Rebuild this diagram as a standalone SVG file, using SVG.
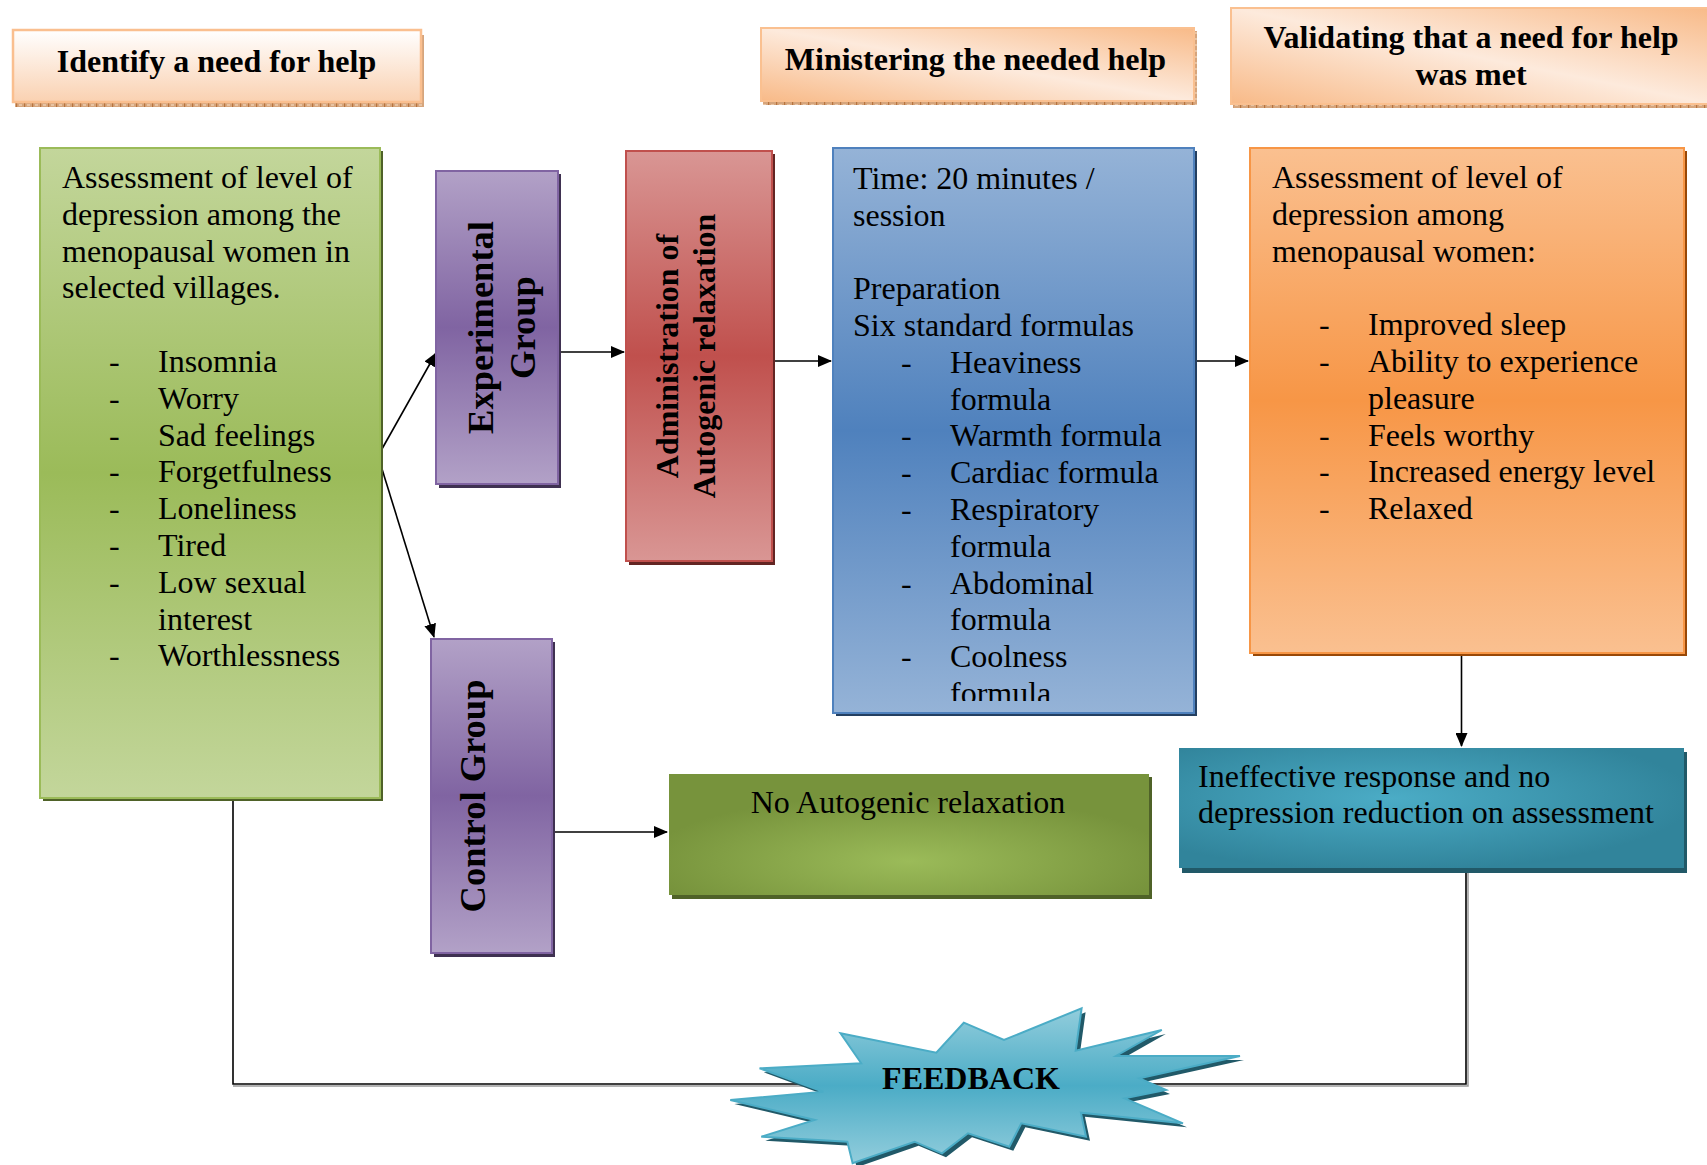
<svg xmlns="http://www.w3.org/2000/svg" width="1707" height="1165" viewBox="0 0 1707 1165">
<style>
  text { font-family: "Liberation Serif", "Times New Roman", serif; fill: #000; }
  .hd { font-size: 32px; font-weight: bold; text-anchor: middle; }
  .bt { font-size: 32px; }
  .vt { font-size: 36.5px; font-weight: bold; text-anchor: middle; }
  .vt2 { font-size: 32px; font-weight: bold; text-anchor: middle; }
  .ct { font-size: 32px; text-anchor: middle; }
  .fb { font-size: 32px; font-weight: bold; text-anchor: middle; }
  .conn { fill: none; stroke: #000; stroke-width: 1.6; }
</style>
<defs>
  <linearGradient id="gHdr1" x1="0" y1="0" x2="0" y2="1">
    <stop offset="0" stop-color="#FFFFFF"/>
    <stop offset="1" stop-color="#FAD1B1"/>
  </linearGradient>
  <linearGradient id="gHdr2" x1="1" y1="0" x2="0" y2="1">
    <stop offset="0" stop-color="#F8BA88"/>
    <stop offset="0.5" stop-color="#FDEADC"/>
    <stop offset="1" stop-color="#F8BA88"/>
  </linearGradient>
  <pattern id="pShadow" width="8" height="6" patternUnits="userSpaceOnUse">
    <rect width="8" height="6" fill="#D6A57C"/>
    <rect x="0" y="0" width="1.2" height="6" fill="#B8743E"/>
    <rect x="3" y="2" width="3" height="2" fill="#E7C3A3"/>
  </pattern>
  <linearGradient id="gGreen" x1="0" y1="0" x2="0" y2="1">
    <stop offset="0" stop-color="#C3D69B"/>
    <stop offset="0.5" stop-color="#9BBB59"/>
    <stop offset="1" stop-color="#C3D69B"/>
  </linearGradient>
  <linearGradient id="gPurple" x1="0" y1="0" x2="0" y2="1">
    <stop offset="0" stop-color="#B2A1C7"/>
    <stop offset="0.5" stop-color="#8064A2"/>
    <stop offset="1" stop-color="#B2A1C7"/>
  </linearGradient>
  <linearGradient id="gRed" x1="0" y1="0" x2="0" y2="1">
    <stop offset="0" stop-color="#D99694"/>
    <stop offset="0.5" stop-color="#C0504D"/>
    <stop offset="1" stop-color="#D99694"/>
  </linearGradient>
  <linearGradient id="gBlue" x1="0" y1="0" x2="0" y2="1">
    <stop offset="0" stop-color="#95B3D7"/>
    <stop offset="0.5" stop-color="#4F81BD"/>
    <stop offset="1" stop-color="#95B3D7"/>
  </linearGradient>
  <linearGradient id="gOrange" x1="0" y1="0" x2="0" y2="1">
    <stop offset="0" stop-color="#FAC090"/>
    <stop offset="0.5" stop-color="#F79646"/>
    <stop offset="1" stop-color="#FAC090"/>
  </linearGradient>
  <radialGradient id="gTeal" cx="0.42" cy="0.42" r="0.6">
    <stop offset="0" stop-color="#4BACC6"/>
    <stop offset="1" stop-color="#31849B"/>
  </radialGradient>
  <radialGradient id="gOlive" cx="0.5" cy="0.72" r="0.55">
    <stop offset="0" stop-color="#9BBB59"/>
    <stop offset="1" stop-color="#77933C"/>
  </radialGradient>
  <linearGradient id="gStar" x1="0" y1="0" x2="0" y2="1">
    <stop offset="0" stop-color="#92CDDC"/>
    <stop offset="0.5" stop-color="#4BACC6"/>
    <stop offset="1" stop-color="#92CDDC"/>
  </linearGradient>
  <clipPath id="clipBlue">
    <rect x="833" y="148" width="361" height="553"/>
  </clipPath>
  <marker id="arr" markerUnits="userSpaceOnUse" markerWidth="14" markerHeight="12" refX="13" refY="6" orient="auto">
    <path d="M0,0 L14,6 L0,12 z" fill="#000"/>
  </marker>
</defs>

<rect width="1707" height="1165" fill="#FFFFFF"/>

<!-- Connectors -->
<g id="connectors">
  <path class="conn" d="M378,456 L436,353" marker-end="url(#arr)"/>
  <path class="conn" d="M378,456 L434,637" marker-end="url(#arr)"/>
  <path class="conn" d="M553,352 L624,352" marker-end="url(#arr)"/>
  <path class="conn" d="M772,361 L831,361" marker-end="url(#arr)"/>
  <path class="conn" d="M1194,361 L1248,361" marker-end="url(#arr)"/>
  <path class="conn" d="M552,832 L667,832" marker-end="url(#arr)"/>
  <path class="conn" d="M1461.5,653 L1461.5,746" marker-end="url(#arr)"/>
  <path d="M233,1086 L1468,1086 L1468,870" fill="none" stroke="#9A9A9A" stroke-width="1.5"/>
  <path class="conn" d="M233,798 L233,1084 L1466,1084 L1466,868"/>
</g>

<!-- Header 1 -->
<g id="hdr-identify">
  <rect x="15" y="35" width="409" height="72" fill="url(#pShadow)"/>
  <rect x="13" y="30" width="408" height="72" fill="url(#gHdr1)" stroke="#FABF8F" stroke-width="2.5"/>
  <text class="hd" x="216.5" y="72">Identify a need for help</text>
</g>

<!-- Header 2 -->
<g id="hdr-ministering">
  <rect x="763" y="31" width="434" height="74" fill="url(#pShadow)"/>
  <rect x="761" y="28" width="433" height="73" fill="url(#gHdr2)" stroke="#FAC090" stroke-width="2"/>
  <text class="hd" x="975.5" y="70">Ministering the needed help</text>
</g>

<!-- Header 3 -->
<g id="hdr-validating">
  <rect x="1233" y="12" width="480" height="96" fill="url(#pShadow)"/>
  <rect x="1231" y="8" width="482" height="96" fill="url(#gHdr2)" stroke="#FAC090" stroke-width="2"/>
  <text class="hd" x="1471" y="48">Validating that a need for help</text>
  <text class="hd" x="1471" y="85">was met</text>
</g>

<!-- Green assessment box -->
<g id="node-assessment">
  <rect x="43" y="151" width="340" height="650" fill="#4F6228"/>
  <rect x="40" y="148" width="340" height="650" fill="url(#gGreen)" stroke="#9BBB59" stroke-width="2"/>
  <text class="bt" x="62" y="188">Assessment of level of</text>
  <text class="bt" x="62" y="224.8">depression among the</text>
  <text class="bt" x="62" y="261.6">menopausal women in</text>
  <text class="bt" x="62" y="298.4">selected villages.</text>
  <text class="bt" x="109" y="372">-</text><text class="bt" x="158" y="372">Insomnia</text>
  <text class="bt" x="109" y="408.8">-</text><text class="bt" x="158" y="408.8">Worry</text>
  <text class="bt" x="109" y="445.6">-</text><text class="bt" x="158" y="445.6">Sad feelings</text>
  <text class="bt" x="109" y="482.4">-</text><text class="bt" x="158" y="482.4">Forgetfulness</text>
  <text class="bt" x="109" y="519.2">-</text><text class="bt" x="158" y="519.2">Loneliness</text>
  <text class="bt" x="109" y="556">-</text><text class="bt" x="158" y="556">Tired</text>
  <text class="bt" x="109" y="592.8">-</text><text class="bt" x="158" y="592.8">Low sexual</text>
  <text class="bt" x="158" y="629.6">interest</text>
  <text class="bt" x="109" y="666.4">-</text><text class="bt" x="158" y="666.4">Worthlessness</text>
</g>

<!-- Experimental group -->
<g id="node-experimental">
  <rect x="439" y="174" width="122" height="314" fill="#3F3151"/>
  <rect x="436" y="171" width="122" height="313" fill="url(#gPurple)" stroke="#8064A2" stroke-width="2"/>
  <text class="vt" transform="translate(493,327.5) rotate(-90)">Experimental</text>
  <text class="vt" transform="translate(535,327.5) rotate(-90)">Group</text>
</g>

<!-- Control group -->
<g id="node-control">
  <rect x="434" y="642" width="121" height="315" fill="#3F3151"/>
  <rect x="431" y="639" width="121" height="314" fill="url(#gPurple)" stroke="#8064A2" stroke-width="2"/>
  <text class="vt" transform="translate(485,796) rotate(-90)">Control Group</text>
</g>

<!-- Administration -->
<g id="node-admin">
  <rect x="629" y="154" width="146" height="411" fill="#632523"/>
  <rect x="626" y="151" width="146" height="410" fill="url(#gRed)" stroke="#C0504D" stroke-width="2"/>
  <text class="vt2" transform="translate(678,356) rotate(-90)">Administration of</text>
  <text class="vt2" transform="translate(715,356) rotate(-90)">Autogenic relaxation</text>
</g>

<!-- Blue box -->
<g id="node-session">
  <rect x="836" y="151" width="361" height="565" fill="#243F60"/>
  <rect x="833" y="148" width="361" height="565" fill="url(#gBlue)" stroke="#4F81BD" stroke-width="2"/>
  <g clip-path="url(#clipBlue)">
    <text class="bt" x="853" y="188.8">Time: 20 minutes /</text>
    <text class="bt" x="853" y="225.6">session</text>
    <text class="bt" x="853" y="299.2">Preparation</text>
    <text class="bt" x="853" y="336">Six standard formulas</text>
    <text class="bt" x="901" y="372.8">-</text><text class="bt" x="950" y="372.8">Heaviness</text>
    <text class="bt" x="950" y="409.6">formula</text>
    <text class="bt" x="901" y="446.4">-</text><text class="bt" x="950" y="446.4">Warmth formula</text>
    <text class="bt" x="901" y="483.2">-</text><text class="bt" x="950" y="483.2">Cardiac formula</text>
    <text class="bt" x="901" y="520">-</text><text class="bt" x="950" y="520">Respiratory</text>
    <text class="bt" x="950" y="556.8">formula</text>
    <text class="bt" x="901" y="593.6">-</text><text class="bt" x="950" y="593.6">Abdominal</text>
    <text class="bt" x="950" y="630.4">formula</text>
    <text class="bt" x="901" y="667.2">-</text><text class="bt" x="950" y="667.2">Coolness</text>
    <text class="bt" x="950" y="704">formula</text>
  </g>
</g>

<!-- Orange box -->
<g id="node-validation">
  <rect x="1253" y="151" width="434" height="505" fill="#984807"/>
  <rect x="1250" y="148" width="434" height="505" fill="url(#gOrange)" stroke="#F79646" stroke-width="2"/>
  <text class="bt" x="1272" y="188">Assessment of level of</text>
  <text class="bt" x="1272" y="224.8">depression among</text>
  <text class="bt" x="1272" y="261.6">menopausal women:</text>
  <text class="bt" x="1319" y="335.2">-</text><text class="bt" x="1368" y="335.2">Improved sleep</text>
  <text class="bt" x="1319" y="372">-</text><text class="bt" x="1368" y="372">Ability to experience</text>
  <text class="bt" x="1368" y="408.8">pleasure</text>
  <text class="bt" x="1319" y="445.6">-</text><text class="bt" x="1368" y="445.6">Feels worthy</text>
  <text class="bt" x="1319" y="482.4">-</text><text class="bt" x="1368" y="482.4">Increased energy level</text>
  <text class="bt" x="1319" y="519.2">-</text><text class="bt" x="1368" y="519.2">Relaxed</text>
</g>

<!-- No autogenic relaxation -->
<g id="node-noautogenic">
  <rect x="672" y="777" width="480" height="122" fill="#4F6228"/>
  <rect x="669" y="774" width="480" height="121" fill="url(#gOlive)"/>
  <text class="ct" x="908" y="813">No Autogenic relaxation</text>
</g>

<!-- Ineffective response -->
<g id="node-ineffective">
  <rect x="1182" y="752" width="505" height="121" fill="#215968"/>
  <rect x="1179" y="748" width="505" height="120" fill="url(#gTeal)"/>
  <text class="bt" x="1198" y="787">Ineffective response and no</text>
  <text class="bt" x="1198" y="823">depression reduction on assessment</text>
</g>

<!-- Feedback star -->
<g id="node-feedback">
  <polygon transform="translate(4,4)" fill="#215968" points="1081.6,1008.3 1075.7,1050.7 1161.8,1030 1116,1056 1240,1056 1139.4,1078.3 1166,1090 1124.6,1098.3 1183,1123.3 1080.9,1112.7 1086,1136.7 1021.3,1123.3 1009.3,1146.7 968,1133.3 942,1153.3 914.6,1141.7 852.6,1163.3 847.4,1141.7 761.3,1136.7 814.7,1120 730.3,1100 823.3,1091.7 759.6,1068.3 861.2,1063.3 840.5,1033.3 936.3,1052.7 963.8,1022.7 1004,1040"/>
  <polygon fill="url(#gStar)" stroke="#4BACC6" stroke-width="2" points="1081.6,1008.3 1075.7,1050.7 1161.8,1030 1116,1056 1240,1056 1139.4,1078.3 1166,1090 1124.6,1098.3 1183,1123.3 1080.9,1112.7 1086,1136.7 1021.3,1123.3 1009.3,1146.7 968,1133.3 942,1153.3 914.6,1141.7 852.6,1163.3 847.4,1141.7 761.3,1136.7 814.7,1120 730.3,1100 823.3,1091.7 759.6,1068.3 861.2,1063.3 840.5,1033.3 936.3,1052.7 963.8,1022.7 1004,1040"/>
  <text class="fb" x="971" y="1089">FEEDBACK</text>
</g>
</svg>
